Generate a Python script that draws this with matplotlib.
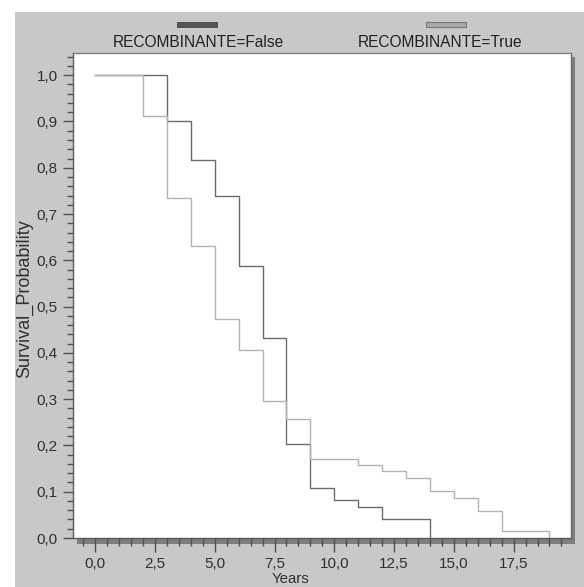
import matplotlib
matplotlib.use("Agg")
import matplotlib.pyplot as plt
from matplotlib.patches import Rectangle
from matplotlib.ticker import MultipleLocator, FuncFormatter
from matplotlib import font_manager

# ---- data ----
false_times = [0, 3, 4, 5, 6, 7, 8, 9, 10, 11, 12, 14]
false_surv = [1.0, 0.902, 0.817, 0.739, 0.587, 0.433, 0.204, 0.108, 0.083, 0.067, 0.041, 0.0]

true_times = [0, 2, 3, 4, 5, 6, 7, 8, 9, 11, 12, 13, 14, 15, 16, 17, 19]
true_surv = [1.0, 0.911, 0.735, 0.631, 0.473, 0.407, 0.297, 0.258, 0.171, 0.157,
             0.144, 0.129, 0.101, 0.086, 0.058, 0.0145, 0.0]

legend_labels = ["RECOMBINANTE=False", "RECOMBINANTE=True"]
x_label = "Years"
y_label = "Survival_Probability"
x_ticks = [0, 2.5, 5, 7.5, 10, 12.5, 15, 17.5]
y_ticks = [0.0, 0.1, 0.2, 0.3, 0.4, 0.5, 0.6, 0.7, 0.8, 0.9, 1.0]

# ---- fonts ----
names = {f.name for f in font_manager.fontManager.ttflist}
base_font = "Liberation Sans" if "Liberation Sans" in names else "DejaVu Sans"
plt.rcParams['font.family'] = [base_font, 'DejaVu Sans']

W, H = 584, 587
fig = plt.figure(figsize=(W / 100, H / 100), dpi=100, facecolor="white")


def fx(px):
    return px / W


def fy(py):
    return 1 - py / H


BG = "#c8c8c8"
# gray panel
fig.patches.append(Rectangle((fx(15), 0), 1 - fx(15), fy(12), transform=fig.transFigure,
                             facecolor=BG, edgecolor="none", zorder=-3))
# drop shadow of plot frame
fig.patches.append(Rectangle((fx(77), fy(544)), fx(575) - fx(77), fy(57) - fy(544),
                             transform=fig.transFigure, facecolor="#7e7e7e",
                             edgecolor="none", zorder=-2))

ax = fig.add_axes([fx(73), fy(538), fx(571) - fx(73), fy(53) - fy(538)])
ax.set_facecolor("white")

ax.step(false_times, false_surv, where="post", color="#6c6c6c", lw=1.0)
ax.step(true_times, true_surv, where="post", color="#b2b2b2", lw=1.0)

ax.set_xlim(-0.93, 19.9)
ax.set_ylim(0, 1.048)

ax.xaxis.set_minor_locator(MultipleLocator(0.5))
ax.yaxis.set_minor_locator(MultipleLocator(0.02))
ax.set_xticks(x_ticks)
ax.set_yticks(y_ticks)
fmt = FuncFormatter(lambda v, p: f"{v:.1f}".replace(".", ","))
ax.xaxis.set_major_formatter(fmt)
ax.yaxis.set_major_formatter(fmt)

tick_col = "#505050"
ax.tick_params(axis="both", which="both", direction="out", colors=tick_col,
               labelcolor="#303030", labelsize=11, width=1)
ax.tick_params(axis="x", which="major", length=10, pad=4)
ax.tick_params(axis="x", which="minor", length=6)
ax.tick_params(axis="y", which="major", length=7, pad=4)
ax.tick_params(axis="y", which="minor", length=4)

ax.spines["top"].set_color("#808080")
ax.spines["right"].set_color("#6a6a6a")
ax.spines["left"].set_color("#5a5a5a")
ax.spines["bottom"].set_color("#5a5a5a")
for s in ax.spines.values():
    s.set_linewidth(1)

# legend (swatch above label)
leg_kw = dict(family=[base_font, 'DejaVu Sans'], fontsize=11.2)

fig.patches.append(Rectangle((fx(177), fy(27)), fx(217) - fx(177), fy(22) - fy(27),
                             transform=fig.transFigure, facecolor="#555555",
                             edgecolor="#444444", lw=0.6, zorder=2))
fig.patches.append(Rectangle((fx(426), fy(27)), fx(466) - fx(426), fy(22) - fy(27),
                             transform=fig.transFigure, facecolor="#a8a8a8",
                             edgecolor="#777777", lw=0.8, zorder=2))
fig.text(fx(198), fy(47), legend_labels[0], ha="center", va="baseline",
         color="#202020", **leg_kw)
fig.text(fx(440.5), fy(47), legend_labels[1], ha="center", va="baseline",
         color="#202020", **leg_kw)

# axis labels
fig.text(fx(24.5), fy(299), y_label, rotation=90, ha="center", va="center",
         fontsize=13, color="#303030", family=[base_font, 'DejaVu Sans'])
fig.text(fx(291), fy(586), x_label, ha="center", va="bottom", color="#303030",
         family=[base_font, 'DejaVu Sans'], fontsize=10.8)

fig.savefig("out.png", dpi=100, facecolor="white")
